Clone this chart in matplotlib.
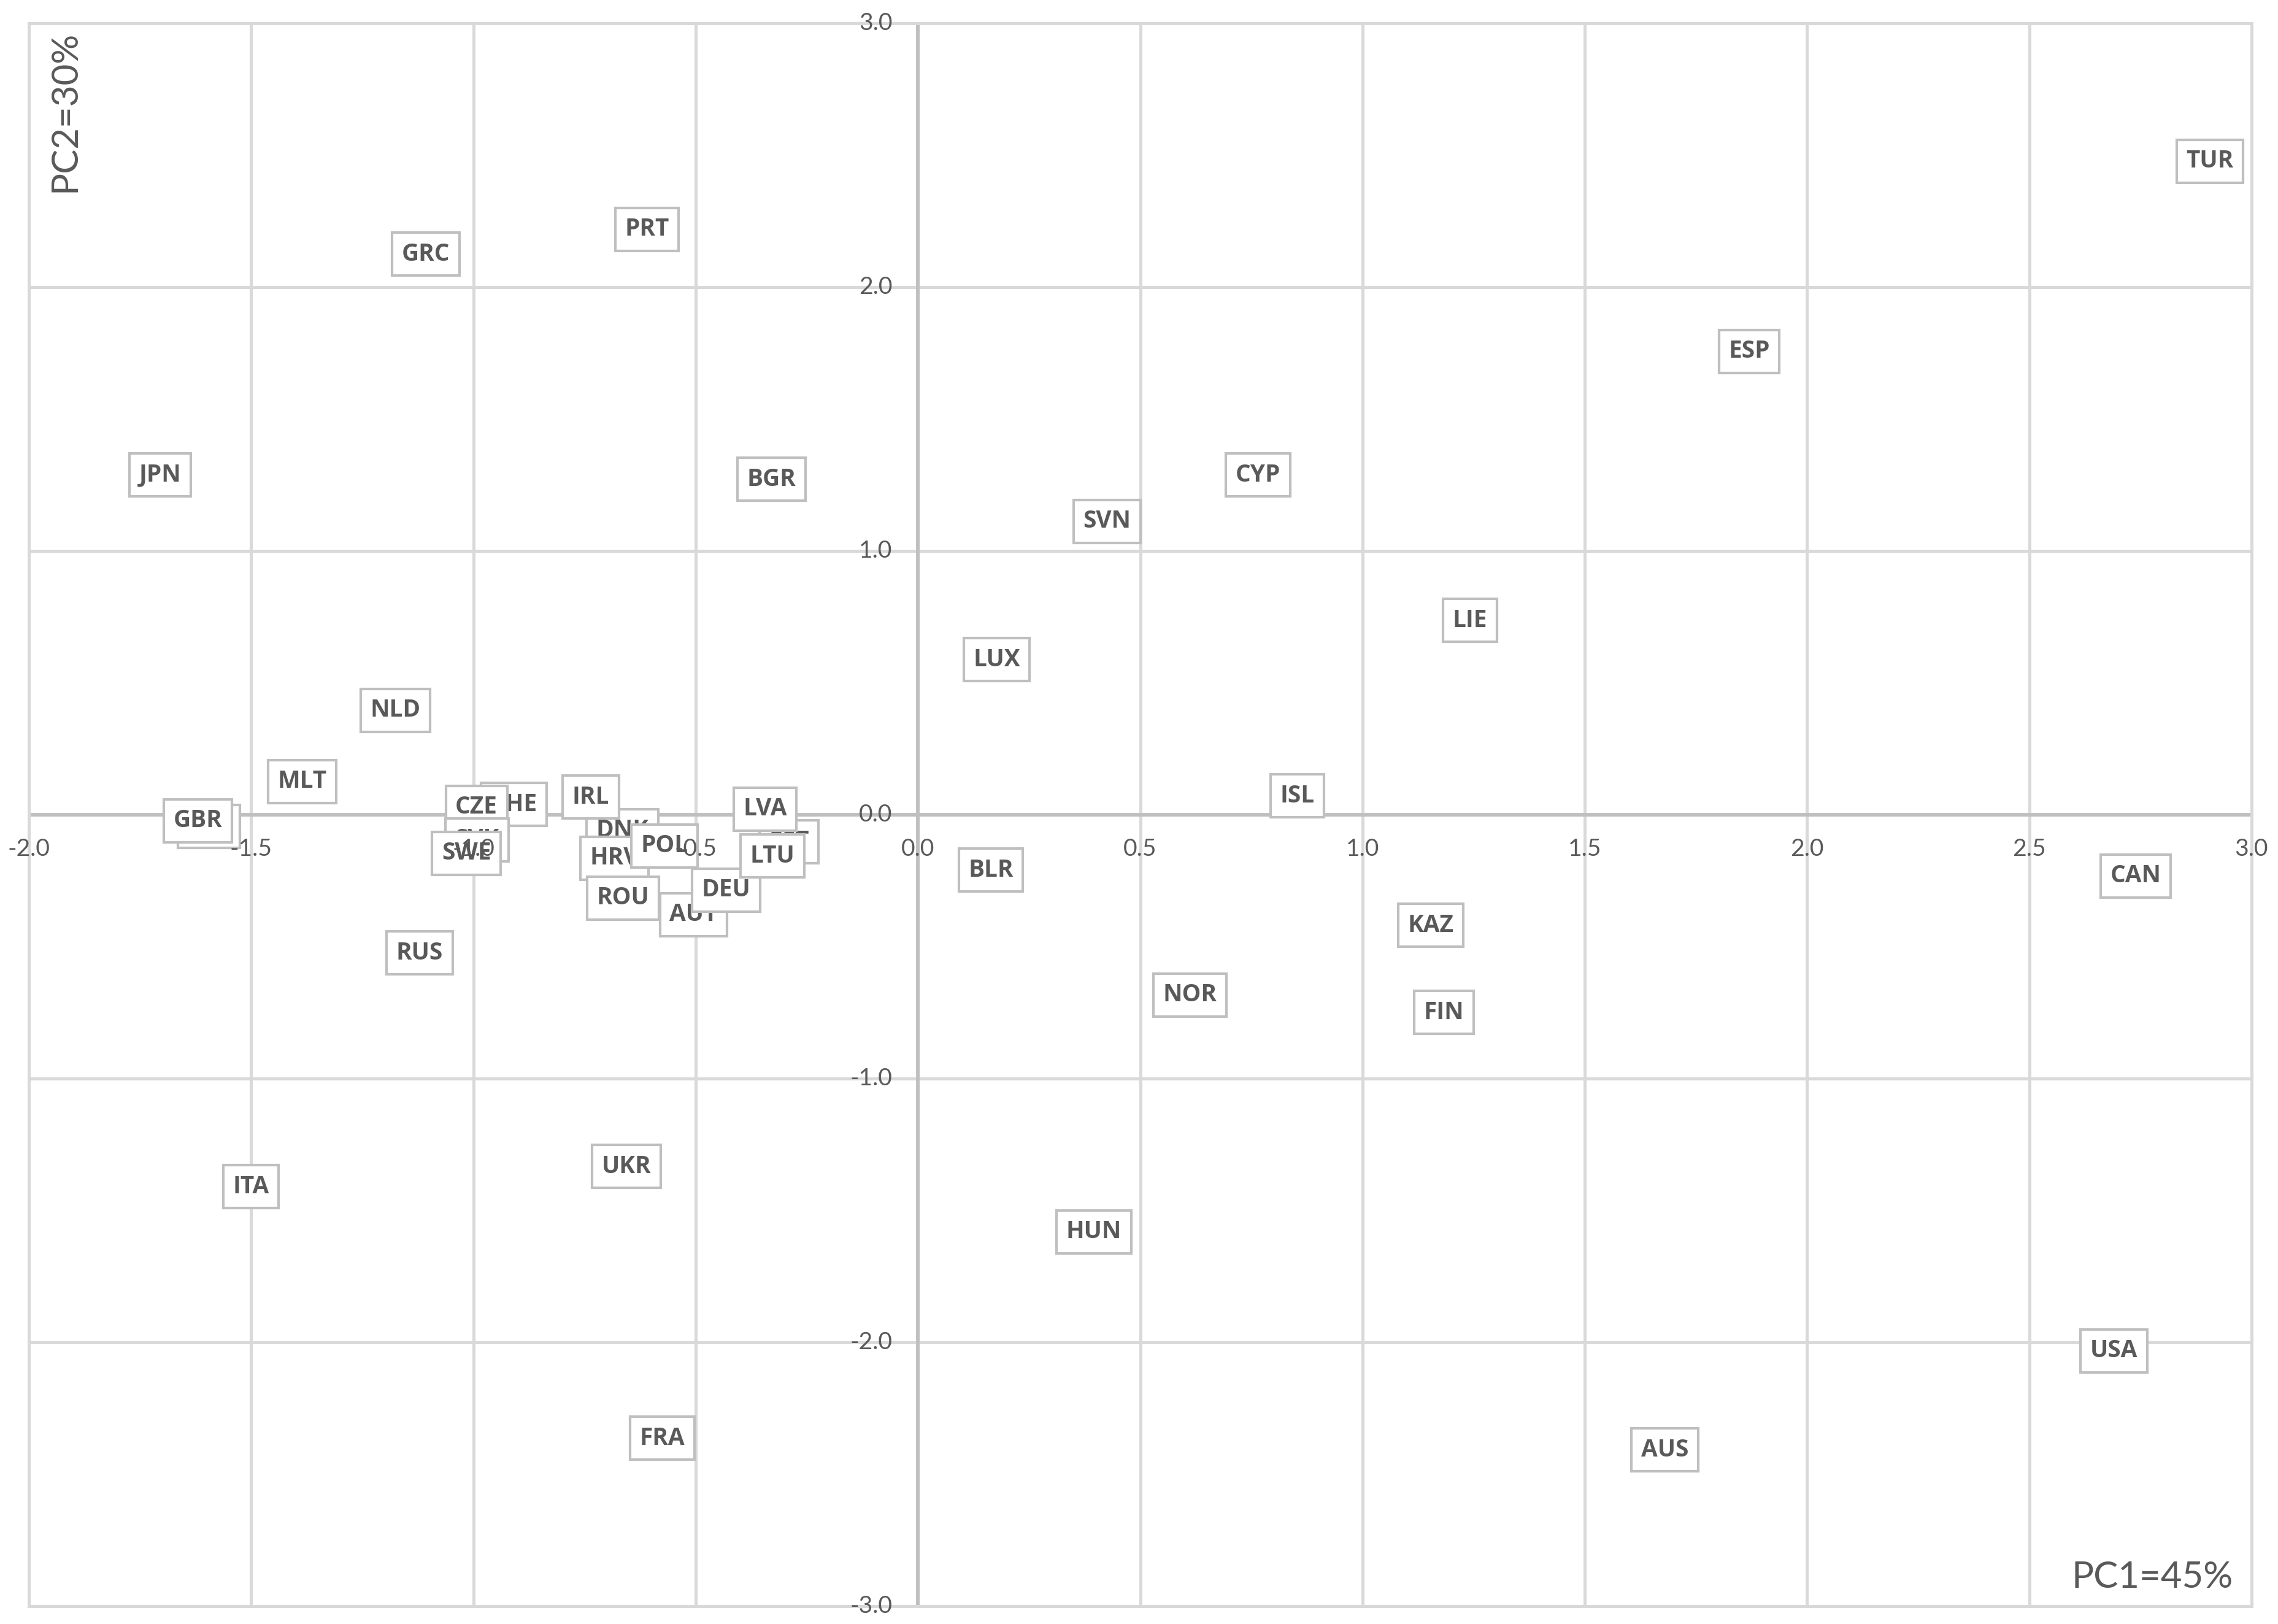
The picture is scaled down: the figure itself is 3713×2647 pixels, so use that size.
import numpy as np
import matplotlib
matplotlib.use("Agg")
import matplotlib.pyplot as plt

# PCA scores (draw order = stacking order)
countries = ['BEL', 'GBR', 'CHE', 'CZE', 'SVK', 'SWE', 'DNK', 'IRL', 'HRV', 'POL',
             'AUT', 'ROU', 'DEU', 'EST', 'LVA', 'LTU',
             'TUR', 'ESP', 'CYP', 'SVN', 'LIE', 'LUX', 'ISL', 'BLR', 'CAN', 'KAZ',
             'NOR', 'FIN', 'HUN', 'USA', 'AUS', 'FRA', 'UKR', 'ITA', 'RUS', 'MLT',
             'NLD', 'JPN', 'GRC', 'PRT', 'BGR']
pc1 = [-1.595, -1.620, -0.909, -0.993, -0.992, -1.016, -0.665, -0.736, -0.683, -0.570,
       -0.505, -0.663, -0.432, -0.290, -0.344, -0.327,
       2.906, 1.870, 0.765, 0.425, 1.242, 0.177, 0.853, 0.164, 2.739, 1.154,
       0.612, 1.183, 0.396, 2.690, 1.680, -0.575, -0.656, -1.500, -1.121, -1.385,
       -1.176, -1.705, -1.107, -0.610, -0.329]
pc2 = [-0.044, -0.023, 0.039, 0.028, -0.095, -0.146, -0.060, 0.067, -0.165, -0.118,
       -0.379, -0.316, -0.286, -0.102, 0.021, -0.156,
       2.477, 1.756, 1.288, 1.112, 0.737, 0.588, 0.071, -0.210, -0.232, -0.419,
       -0.683, -0.749, -1.581, -2.032, -2.407, -2.363, -1.333, -1.410, -0.524, 0.126,
       0.396, 1.288, 2.125, 2.219, 1.272]

x_ticks = [-2.0, -1.5, -1.0, -0.5, 0.0, 0.5, 1.0, 1.5, 2.0, 2.5, 3.0]
y_ticks = [-3.0, -2.0, -1.0, 0.0, 1.0, 2.0, 3.0]
x_title = 'PC1=45%'
y_title = 'PC2=30%'

TXT = '#595959'
GRID = '#D9D9D9'
AXIS = '#BFBFBF'
FONT = ['Lato', 'DejaVu Sans']
BOLD = ['Open Sans', 'DejaVu Sans']

fig = plt.figure(figsize=(3713 / 300, 2647 / 300), dpi=300)
ax = fig.add_axes([47 / 3713, 29 / 2647, 3623 / 3713, 2580 / 2647])
ax.set_xlim(-2, 3)
ax.set_ylim(-3, 3)
ax.set_xticks(x_ticks)
ax.set_yticks(y_ticks)
ax.tick_params(length=0, labelbottom=False, labelleft=False)
ax.grid(True, color=GRID, linewidth=1.2, zorder=0)
ax.set_axisbelow(True)
for s in ax.spines.values():
    s.set_color(GRID)
    s.set_linewidth(1.2)

ax.axhline(0, color=AXIS, linewidth=1.4, zorder=1)
ax.axvline(0, color=AXIS, linewidth=1.4, zorder=1)

# data labels (boxes centred on the points)
for i, (name, x, y) in enumerate(zip(countries, pc1, pc2)):
    ax.text(x, y, name, ha='center', va='center', fontsize=9.3, fontweight='bold',
            color=TXT, family=BOLD, zorder=3 + i * 0.01,
            bbox=dict(boxstyle='square,pad=0.4', facecolor='white',
                      edgecolor=AXIS, linewidth=1.0))

# tick labels at the axis crossing, drawn on top
for v in x_ticks:
    ax.annotate(f'{v:.1f}', (v, 0), xytext=(0, -9), textcoords='offset points',
                ha='center', va='top', fontsize=9.4, color=TXT, family=FONT,
                zorder=10, annotation_clip=False)
for v in y_ticks:
    ax.annotate(f'{v:.1f}', (0, v), xytext=(-10, 0), textcoords='offset points',
                ha='right', va='center', fontsize=9.4, color=TXT, family=FONT,
                zorder=10, annotation_clip=False)

ax.text(0.0086, 0.9953, y_title, transform=ax.transAxes, rotation=90,
        ha='left', va='top', fontsize=14.4, color=TXT, family=FONT, zorder=10)
ax.text(0.9917, 0.0116, x_title, transform=ax.transAxes,
        ha='right', va='baseline', fontsize=14.4, color=TXT, family=FONT, zorder=10)

fig.savefig('out.png', dpi=300, facecolor='white')
